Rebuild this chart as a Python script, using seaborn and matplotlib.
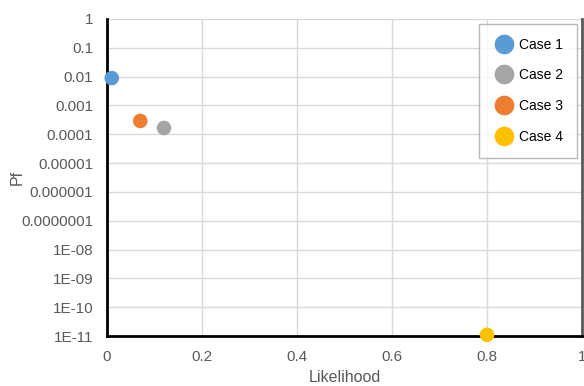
import matplotlib.pyplot as plt
import pandas as pd
import seaborn as sns

# dados
casos = ['Case 1', 'Case 2', 'Case 3', 'Case 4']
likelihood = [0.01, 0.12, 0.07, 0.8]
pf = [0.0089, 0.000165, 0.00029, 1.1e-11]
cores = ['#5B9BD5', '#A5A5A5', '#ED7D31', '#FFC000']

df = pd.DataFrame({'Likelihood': likelihood, 'Pf': pf, 'caso': casos})

sns.set_style('white')
plt.rcParams['font.family'] = ['Liberation Sans', 'DejaVu Sans']

fig = plt.figure(figsize=(5.84, 3.86), dpi=100)
ax = fig.add_axes([107 / 584, 1 - 336 / 386, 475 / 584, 317 / 386])

sns.scatterplot(data=df, x='Likelihood', y='Pf', hue='caso', palette=cores,
                s=110, edgecolor='none', ax=ax, zorder=5, clip_on=False)

ax.set_yscale('log')
ax.set_xlim(0, 1)
ax.set_ylim(1e-11, 1)
ax.set_xticks([0, 0.2, 0.4, 0.6, 0.8, 1.0])
ax.set_xticklabels(['0', '0.2', '0.4', '0.6', '0.8', '1'])
yticks = [10.0 ** -k for k in range(0, 12)]
ylabels = ['1', '0.1', '0.01', '0.001', '0.0001', '0.00001', '0.000001',
           '0.0000001', '1E-08', '1E-09', '1E-10', '1E-11']
ax.set_yticks(yticks)
ax.set_yticklabels(ylabels)
ax.yaxis.set_minor_locator(plt.NullLocator())

ax.grid(True, color='#D9D9D9', linewidth=1)
ax.tick_params(axis='both', colors='#595959', labelsize=11, length=0)
ax.tick_params(axis='y', pad=10)
ax.tick_params(axis='x', pad=10)
ax.set_xlabel('Likelihood', color='#595959', fontsize=11.5)
ax.set_ylabel('Pf', color='#595959', fontsize=11.5)
ax.xaxis.set_label_coords(0.5, -0.132)
ax.yaxis.set_label_coords(-0.189, 0.5)
ax.xaxis.label.set_va('center')
ax.yaxis.label.set_va('center')

for lado in ['left', 'bottom']:
    ax.spines[lado].set_color('black')
    ax.spines[lado].set_linewidth(2)
ax.spines['top'].set_visible(False)
ax.spines['right'].set_color('#595959')
ax.spines['right'].set_linewidth(2)

leg = ax.legend(loc='upper right', bbox_to_anchor=(0.99, 0.985), frameon=True,
                fancybox=False, edgecolor='#A6A6A6', fontsize=10,
                markerscale=1.35, labelspacing=1.2, borderpad=1.0,
                handlelength=1.6, handletextpad=0.3, borderaxespad=0)
leg.get_frame().set_linewidth(1)
for t in leg.get_texts():
    t.set_color('black')

plt.savefig('out.png', dpi=100)
